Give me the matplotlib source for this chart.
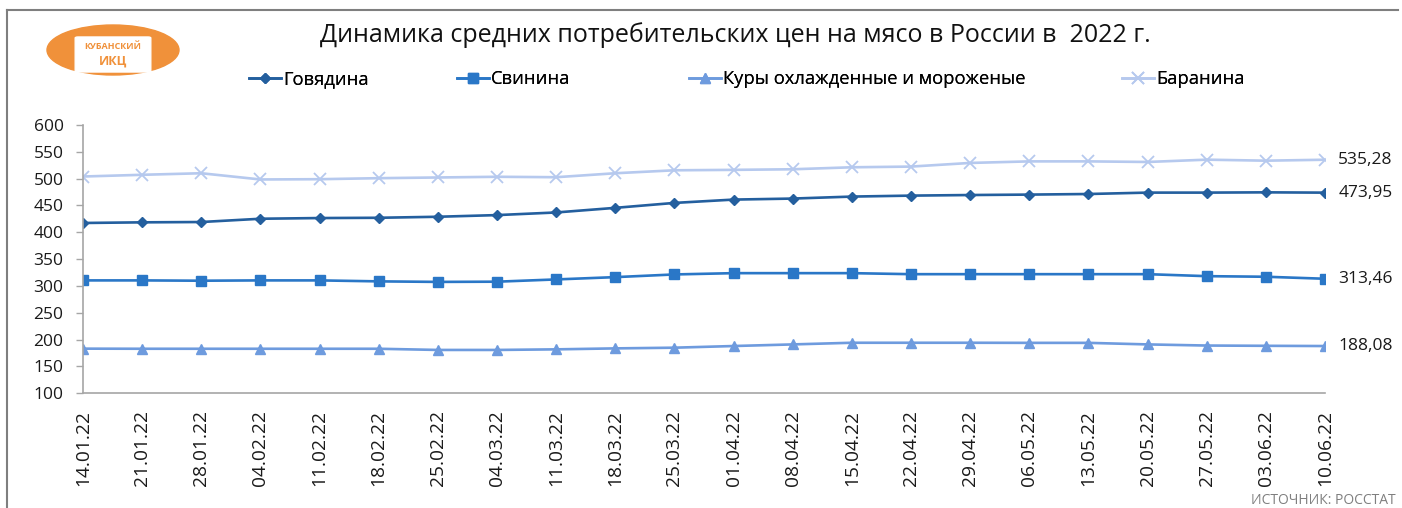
import matplotlib
matplotlib.use("Agg")
import matplotlib.pyplot as plt
from matplotlib.patches import Ellipse, FancyBboxPatch
from matplotlib.lines import Line2D

plt.rcParams['font.family'] = ['Open Sans', 'DejaVu Sans']

dates = ["14.01.22", "21.01.22", "28.01.22", "04.02.22", "11.02.22", "18.02.22",
         "25.02.22", "04.03.22", "11.03.22", "18.03.22", "25.03.22", "01.04.22",
         "08.04.22", "15.04.22", "22.04.22", "29.04.22", "06.05.22", "13.05.22",
         "20.05.22", "27.05.22", "03.06.22", "10.06.22"]

beef = [417.4, 418.6, 419.2, 425.3, 426.6, 427.1, 429.0, 432.1, 437.0, 445.6, 454.8,
        461.0, 462.9, 466.6, 468.4, 469.5, 470.3, 471.4, 474.0, 474.0, 474.5, 473.95]
pork = [310.4, 310.4, 309.8, 310.4, 310.4, 308.6, 307.6, 308.0, 312.2, 316.5, 321.5,
        323.9, 323.9, 323.9, 322.0, 322.0, 322.0, 322.0, 322.0, 318.3, 317.2, 313.46]
chicken = [183.2, 183.0, 183.0, 183.0, 183.0, 183.0, 180.8, 180.8, 181.9, 183.7, 185.0,
           188.1, 191.1, 194.2, 194.2, 194.2, 194.0, 194.0, 191.1, 189.0, 188.5, 188.08]
lamb = [504.0, 507.2, 510.1, 498.5, 499.0, 500.9, 502.2, 503.5, 502.7, 510.1, 515.6,
        516.4, 517.5, 521.2, 522.5, 529.3, 532.2, 532.2, 531.1, 535.4, 533.5, 535.28]

series_names = ["Говядина", "Свинина", "Куры охлажденные и мороженые", "Баранина"]
series_values = [beef, pork, chicken, lamb]
yticks = [100, 150, 200, 250, 300, 350, 400, 450, 500, 550, 600]

title = "Динамика средних потребительских цен на мясо в России в  2022 г."
source = "ИСТОЧНИК: РОССТАТ"

W, H = 1402, 508
fig = plt.figure(figsize=(W / 100, H / 100), dpi=100)

def fx(px):
    return px / W

def fy(py):
    return 1 - py / H

left, right, top, bottom = 83, 1325, 125, 393.3
ax = fig.add_axes([fx(left), fy(bottom), fx(right - left), (bottom - top) / H])

styles = [
    dict(color="#245F9E", marker="D", markersize=5.5),
    dict(color="#2A77C7", marker="s", markersize=7.5),
    dict(color="#6E9BDE", marker="^", markersize=7.5),
    dict(color="#B6C9EE", marker="x", markersize=8, markeredgewidth=1.3),
]

x = list(range(len(dates)))
handles = []
for name, vals, st in zip(series_names, series_values, styles):
    ln, = ax.plot(x, vals, lw=1.9, label=name, **st)
    handles.append(ln)
    last = vals[-1]
    ax.annotate(f"{last:.2f}".replace(".", ","), xy=(x[-1], last), xytext=(9.5, 0),
                textcoords="offset points", va="center", ha="left", fontsize=12.5,
                color="#1a1a1a")

ax.set_xlim(0, len(dates) - 1)
ax.set_ylim(100, 600)
ax.set_yticks(yticks)
ax.set_yticklabels([str(t) for t in yticks], fontsize=12.5, color="#1a1a1a")
ax.set_xticks(x)
ax.set_xticklabels(dates, rotation=90, fontsize=13.8, color="#1a1a1a")
ax.tick_params(axis="x", length=0, pad=12)
ax.tick_params(axis="y", length=5, width=1, color="#A6A6A6", pad=9)
for s in ["top", "right"]:
    ax.spines[s].set_visible(False)
for s in ["left", "bottom"]:
    ax.spines[s].set_color("#A6A6A6")
    ax.spines[s].set_linewidth(1.2)

fig.text(fx(735), fy(35), title, ha="center", va="center", fontsize=18, color="#111111")

# legend entries placed individually, as in the reference
legend_x = [249, 457, 689, 1122]
for h, lx in zip(handles, legend_x):
    lg = fig.legend(handles=[h], loc="center left", bbox_to_anchor=(fx(lx), fy(79)),
                    frameon=False, fontsize=13.2, handlelength=1.75,
                    handletextpad=0.12, borderaxespad=0, borderpad=0)
    fig.add_artist(lg)

fig.text(fx(1396), fy(507.5), source, ha="right", va="bottom", fontsize=10, color="#7f7f7f")

# border of chart area
fig.add_artist(Line2D([fx(7), fx(7)], [fy(10), 0], color="#7f7f7f", lw=1.5))
fig.add_artist(Line2D([fx(7), fx(1398)], [fy(10), fy(10)], color="#7f7f7f", lw=1.5))

# logo
logo = Ellipse((fx(113), fy(50)), width=fx(132), height=50 / H, color="#F0913A",
               transform=fig.transFigure)
fig.add_artist(logo)
inner = FancyBboxPatch((fx(78), fy(71)), fx(70), 33 / H,
                       boxstyle="round,pad=0.002", color="white", transform=fig.transFigure)
fig.add_artist(inner)
fig.text(fx(113), fy(46), "КУБАНСКИЙ", ha="center", va="center", fontsize=6.5,
         fontweight="bold", color="#F0913A")
fig.text(fx(113), fy(61), "ИКЦ", ha="center", va="center", fontsize=9,
         fontweight="bold", color="#F0913A")

fig.savefig("out.png", dpi=100, facecolor="white")
